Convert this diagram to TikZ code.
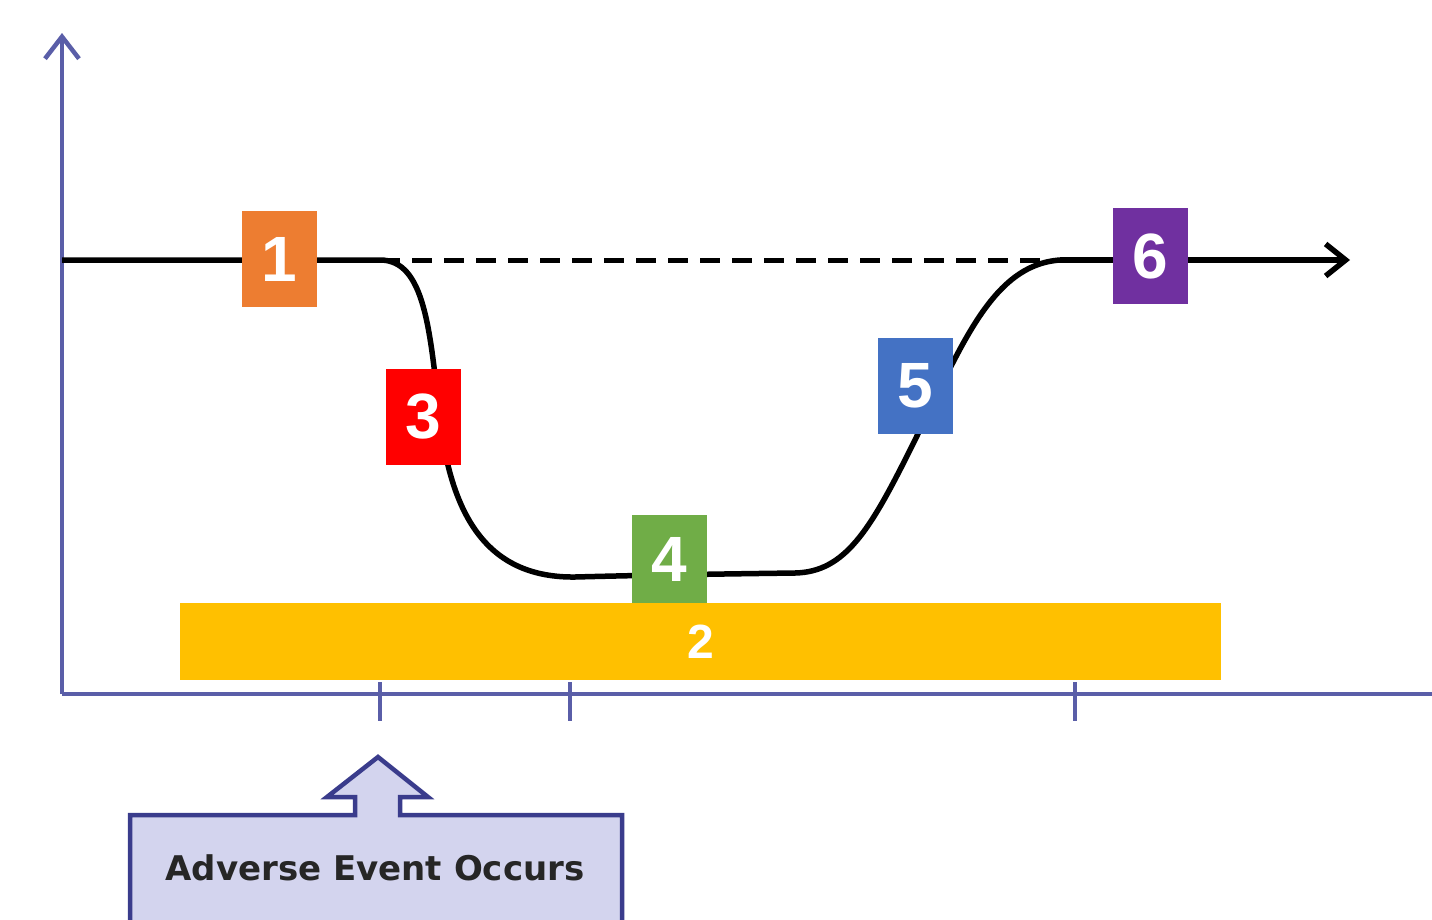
\documentclass[tikz,border=0pt]{standalone}
\usepackage{fontspec}
\setmainfont{Liberation Sans}
\newfontfamily\calloutfont{DejaVu Sans}
\usetikzlibrary{arrows.meta}
\definecolor{axisblue}{HTML}{5A5EA8}
\definecolor{calloutfill}{HTML}{D3D4EE}
\definecolor{calloutline}{HTML}{3A3C8C}
\definecolor{cOrange}{HTML}{ED7D31}
\definecolor{cRed}{HTML}{FF0000}
\definecolor{cGreen}{HTML}{70AD47}
\definecolor{cBlue}{HTML}{4472C4}
\definecolor{cPurple}{HTML}{7030A0}
\definecolor{cYellow}{HTML}{FFC000}
\tikzset{
  axisline/.style={draw=axisblue, line width=4.5pt},
  curveline/.style={draw=black, line width=5.5pt},
  numbox/.style={fill=#1, minimum width=75pt, minimum height=96pt, inner sep=0pt,
    text=white, font=\fontsize{64}{64}\selectfont\bfseries},
}
\begin{document}
\begin{tikzpicture}[x=1pt, y=-1pt]
\useasboundingbox (0,0) rectangle (1432,919);
\clip (0,0) rectangle (1432,919);
% axes
\coordinate (origin) at (62,694);
\coordinate (ytop) at (62,33);
\coordinate (xend) at (1440,694);
\draw[axisline, -{Straight Barb[length=22pt, width=34pt, line width=4.5pt]}] (origin) -- (ytop);
\draw[axisline] (origin) -- (xend);
\foreach \tx/\nm in {380/ta, 570/tb, 1075/tc} {
  \coordinate (\nm1) at (\tx,682);
  \coordinate (\nm2) at (\tx,721);
  \draw[axisline, line width=4pt] (\nm1) -- (\nm2);
}
% curve
\coordinate (c0) at (62,260);
\coordinate (c1) at (380,260);
\coordinate (c2) at (440,420);
\coordinate (c3) at (575,577);
\coordinate (c4) at (795,573);
\coordinate (c5) at (910,450);
\coordinate (c6) at (1060,260);
\coordinate (c7) at (1350,260);
\draw[curveline] (c0) -- (c1)
  .. controls (425,260) and (430,330) .. (c2)
  .. controls (452,520) and (490,578) .. (c3)
  .. controls (650,575) and (720,574) .. (c4)
  .. controls (845,572) and (870,530) .. (c5)
  .. controls (960,350) and (990,265) .. (c6);
\draw[curveline, -{Straight Barb[length=20pt, width=32pt, line width=5.5pt]}] (c6) -- (c7);
\draw[curveline, line width=5pt, dash pattern=on 20pt off 12pt] (c1) -- (c6);
% yellow bar
\node[fill=cYellow, minimum width=1041pt, minimum height=77pt, inner sep=0pt,
  text=white, font=\fontsize{48}{48}\selectfont\bfseries] (n2) at (700.5,641.5) {2};
% number boxes
\node[numbox=cOrange] (n1) at (279.5,259) {1};
\node[numbox=cRed] (n3) at (423.5,417) {3};
\node[numbox=cGreen, minimum height=88pt] (n4) at (669.5,559) {4};
\node[numbox=cBlue] (n5) at (915.5,386) {5};
\node[numbox=cPurple] (n6) at (1150.5,256) {6};
% callout
\draw[fill=calloutfill, draw=calloutline, line width=4.5pt, line join=miter]
  (130,940) -- (130,815) -- (355,815) -- (355,797) -- (327,797) -- (378,757)
  -- (428,797) -- (400,797) -- (400,815) -- (622,815) -- (622,940) -- cycle;
\node[text=black!85, font=\calloutfont\fontsize{34}{34}\selectfont\bfseries] (ev) at (375,868) {Adverse Event Occurs};
\end{tikzpicture}
\end{document}
